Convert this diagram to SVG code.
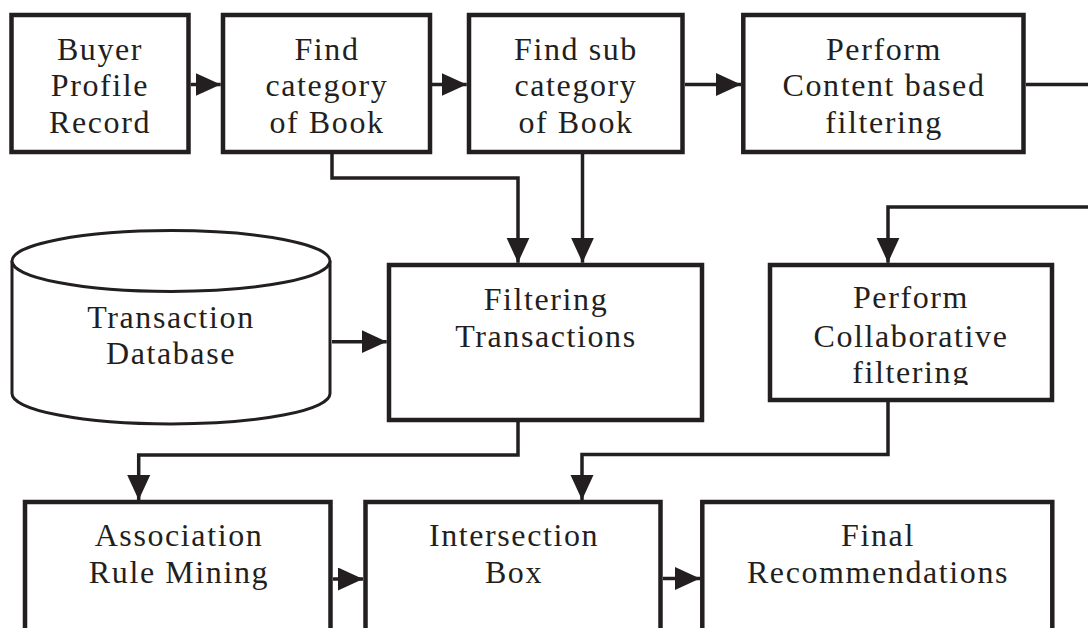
<svg xmlns="http://www.w3.org/2000/svg" width="1088" height="628" viewBox="0 0 1088 628">
  <style>
    .box { fill: #ffffff; stroke: #231f20; stroke-width: 4.5; }
    .cyl { fill: #ffffff; stroke: #231f20; stroke-width: 3; }
    .conn { fill: none; stroke: #231f20; stroke-width: 3.5; }
    .arr { fill: none; stroke: #231f20; stroke-width: 3.5; marker-end: url(#ah); }
    text { font-family: "Liberation Serif", "Times New Roman", serif; font-size: 32px; fill: #231f20; text-anchor: middle; letter-spacing: 1.6px; }
  </style>
  <defs>
    <marker id="ah" markerUnits="userSpaceOnUse" markerWidth="26" markerHeight="24" refX="25" refY="11.5" orient="auto">
      <path d="M0,0 L25,11.5 L0,23 Z" fill="#231f20"/>
    </marker>
    <clipPath id="clipCollab">
      <rect x="770" y="265" width="282" height="120"/>
    </clipPath>
  </defs>
  <rect width="1088" height="628" fill="#ffffff"/>

  <g id="connectors">
    <path class="arr" d="M190.7,84.5 L220.7,84.5"/>
    <path class="arr" d="M432,84.5 L466.7,84.5"/>
    <path class="arr" d="M685,84.5 L741,84.5"/>
    <path class="conn" d="M1026,84.5 L1088,84.5"/>
    <path class="arr" d="M1088,207 L888,207 L888,262.7"/>
    <path class="arr" d="M332,154 L332,178 L518,178 L518,262.7"/>
    <path class="arr" d="M582.5,154 L582.5,262.7"/>
    <path class="arr" d="M332,341.7 L386.7,341.7"/>
    <path class="arr" d="M518,422 L518,455 L138.7,455 L138.7,500"/>
    <path class="arr" d="M888,402 L888,454.5 L582,454.5 L582,500"/>
    <path class="arr" d="M333,579 L363,579"/>
    <path class="arr" d="M663,578.5 L700,578.5"/>
  </g>

  <g id="buyer-profile">
    <rect class="box" x="11.5" y="15" width="177" height="137"/>
    <text x="100" y="59.5">Buyer</text>
    <text x="100" y="96">Profile</text>
    <text x="100" y="132.5">Record</text>
  </g>

  <g id="find-category">
    <rect class="box" x="223" y="15" width="207" height="137"/>
    <text x="327" y="59.5">Find</text>
    <text x="327" y="96">category</text>
    <text x="327" y="132.5">of Book</text>
  </g>

  <g id="find-subcategory">
    <rect class="box" x="469" y="15" width="213.5" height="137"/>
    <text x="576" y="59.5">Find sub</text>
    <text x="576" y="96">category</text>
    <text x="576" y="132.5">of Book</text>
  </g>

  <g id="content-filtering">
    <rect class="box" x="743.3" y="15" width="280.2" height="137"/>
    <text x="884" y="59.5">Perform</text>
    <text x="884" y="96">Content based</text>
    <text x="884" y="132.5">filtering</text>
  </g>

  <g id="transaction-database">
    <path class="cyl" d="M12,261 A159,30.5 0 0,1 330,261 L330,393.5 A159,30.5 0 0,1 12,393.5 Z"/>
    <path class="cyl" d="M12,261 A159,30.5 0 0,0 330,261" fill="none"/>
    <text x="171" y="328.3">Transaction</text>
    <text x="171" y="364">Database</text>
  </g>

  <g id="filtering-transactions">
    <rect class="box" x="389" y="265" width="313" height="155"/>
    <text x="546" y="310">Filtering</text>
    <text x="546" y="347">Transactions</text>
  </g>

  <g id="collaborative-filtering">
    <rect class="box" x="770" y="265" width="282" height="135"/>
    <text x="911" y="308.3">Perform</text>
    <text x="911" y="346.7">Collaborative</text>
    <text x="911" y="382.7" clip-path="url(#clipCollab)">filtering</text>
  </g>

  <g id="association-rule-mining">
    <rect class="box" x="25" y="502" width="305.5" height="200"/>
    <text x="179" y="546">Association</text>
    <text x="179" y="583.3">Rule Mining</text>
  </g>

  <g id="intersection-box">
    <rect class="box" x="365.5" y="502" width="295" height="200"/>
    <text x="514" y="546">Intersection</text>
    <text x="514" y="583">Box</text>
  </g>

  <g id="final-recommendations">
    <rect class="box" x="702.3" y="502" width="350" height="200"/>
    <text x="878" y="546">Final</text>
    <text x="878" y="582.7">Recommendations</text>
  </g>
</svg>
